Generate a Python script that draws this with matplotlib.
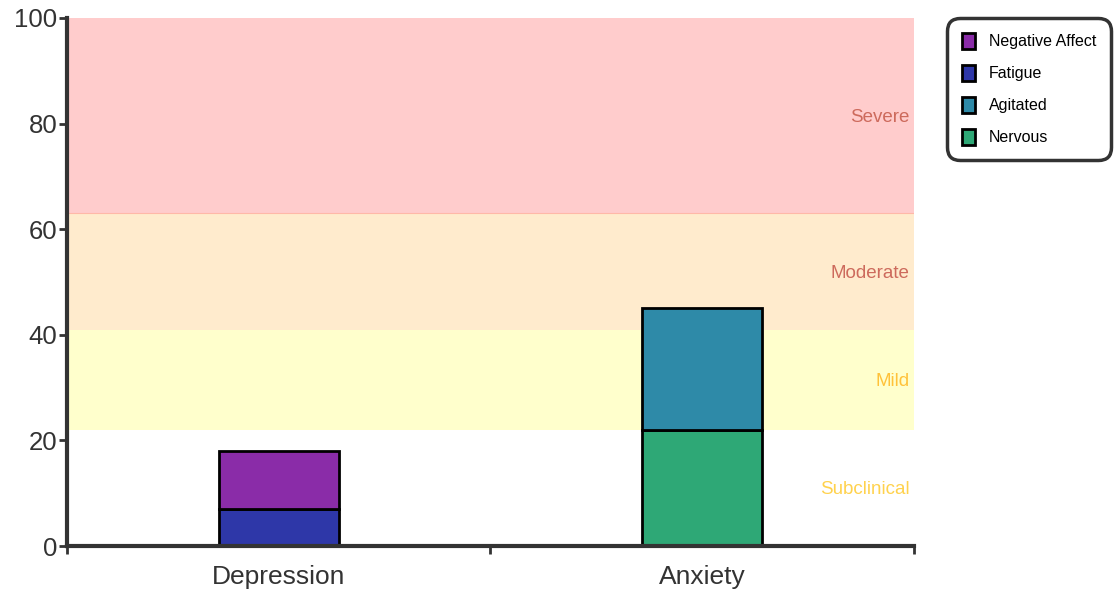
import matplotlib.pyplot as plt
from matplotlib.patches import Patch

plt.rcParams['font.family'] = ['Liberation Sans', 'DejaVu Sans']

# categories and stacked segments
categories = ['Depression', 'Anxiety']
segment_names = ['Negative Affect', 'Fatigue', 'Agitated', 'Nervous']
# segment values per category (bottom-up order inside each bar)
depression_fatigue = 7
depression_negative_affect = 11
anxiety_nervous = 22
anxiety_agitated = 23

# severity bands (lower, upper, label)
band_names = ['Subclinical', 'Mild', 'Moderate', 'Severe']
band_edges = [0, 22, 41, 63, 100]
band_fill = ['#ffffff', '#ffffcc', '#ffebcd', '#ffcccc']
band_text = ['#ffd24d', '#ffc23a', '#cd6a5c', '#cd6a5c']

seg_colors = {'Negative Affect': '#8a2ca8', 'Fatigue': '#2e37a8',
              'Agitated': '#2e8aa8', 'Nervous': '#2ea876'}

fig = plt.figure(figsize=(11.18, 5.92), dpi=100)
ax = fig.add_axes([0.0599, 0.0777, 0.7576, 0.8919])

# background bands
for i in range(len(band_names)):
    lo, hi = band_edges[i], band_edges[i + 1]
    ax.axhspan(lo, hi, color=band_fill[i], lw=0, zorder=0)
    ax.text(1.99, (lo + hi) / 2, band_names[i], ha='right', va='center_baseline',
            color=band_text[i], fontsize=13.5, zorder=1)
ax.axhline(63, color='#ffb8a8', lw=0.8, zorder=0.5)

xpos = [0.5, 1.5]
w = 0.283
kw = dict(width=w, edgecolor='black', linewidth=2, zorder=3)
ax.bar(xpos[0], depression_fatigue, color=seg_colors['Fatigue'], **kw)
ax.bar(xpos[0], depression_negative_affect, bottom=depression_fatigue,
       color=seg_colors['Negative Affect'], **kw)
ax.bar(xpos[1], anxiety_nervous, color=seg_colors['Nervous'], **kw)
ax.bar(xpos[1], anxiety_agitated, bottom=anxiety_nervous,
       color=seg_colors['Agitated'], **kw)

ax.set_xlim(0, 2)
ax.set_ylim(0, 100)
ax.set_xticks([0, 1, 2])
ax.set_xticklabels([])
ax.set_xticks(xpos, minor=True)
ax.set_xticklabels(categories, minor=True)
ax.tick_params(axis='x', which='minor', length=0, pad=14, labelsize=19, labelcolor='#333333')
ax.tick_params(axis='x', which='major', length=6, width=2, color='#333333')
ax.set_yticks([0, 20, 40, 60, 80, 100])
ax.tick_params(axis='y', length=6, width=2, color='#333333', labelsize=18.5,
               labelcolor='#333333', pad=1)

for s in ['top', 'right']:
    ax.spines[s].set_visible(False)
for s in ['left', 'bottom']:
    ax.spines[s].set_color('#333333')
    ax.spines[s].set_linewidth(3)
    ax.spines[s].set_zorder(5)

patches = [Patch(facecolor=seg_colors[n], edgecolor='black', linewidth=2, label=n)
           for n in segment_names]
leg = fig.legend(handles=patches, loc='upper left', bbox_to_anchor=(0.847, 0.9696),
                 fontsize=11.5, frameon=True, fancybox=True, handlelength=0.85,
                 handleheight=1.15, borderpad=0.92, labelspacing=0.98, handletextpad=0.85,
                 borderaxespad=0)
frame = leg.get_frame()
frame.set_edgecolor('black')
frame.set_linewidth(2.5)
frame.set_boxstyle('round,pad=0,rounding_size=0.8')

fig.savefig('out.png', dpi=100)
